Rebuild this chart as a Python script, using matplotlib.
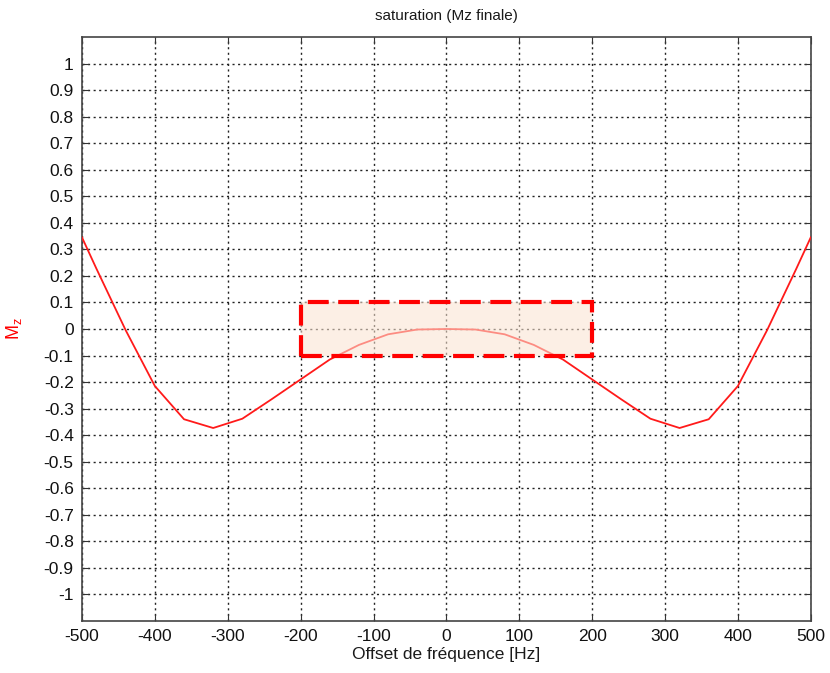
import numpy as np
import matplotlib
matplotlib.use("Agg")
import matplotlib.pyplot as plt
from matplotlib.patches import Rectangle

# frequency offsets [Hz] and final Mz (symmetric profile)
freq_half = [-500, -480, -440, -400, -360, -320, -280, -240, -200, -160, -120, -80, -40, 0]
mz_half = [0.345, 0.226, -0.005, -0.215, -0.34, -0.373, -0.338, -0.265, -0.19, -0.115, -0.06, -0.02, -0.002, 0.0]

freq = freq_half + [-f for f in freq_half[-2::-1]]
mz = mz_half + mz_half[-2::-1]

# highlighted band
band_x = [-200, 200]
band_y = [-0.1, 0.1]

xticks = list(range(-500, 501, 100))
yticks = [round(v, 1) for v in np.arange(-1.0, 1.01, 0.1)]

plt.rcParams['font.family'] = ['Liberation Sans', 'DejaVu Sans']

fig = plt.figure(figsize=(8.3, 6.73), dpi=100)
ax = fig.add_axes([0.0988, 0.0773, 0.878, 0.8677])

ax.plot(freq, mz, color='#ff1a1a', lw=1.3, zorder=3)

rect = Rectangle((band_x[0], band_y[0]), band_x[1] - band_x[0], band_y[1] - band_y[0],
                 facecolor=(0.984, 0.894, 0.824, 0.57), edgecolor='#ff0000',
                 lw=3, linestyle=(0, (5, 2.3)), zorder=4)
ax.add_patch(rect)

ax.set_xlim(-500, 500)
ax.set_ylim(-1.1, 1.1)
ax.set_xticks(xticks)
ax.set_xticklabels([str(t) for t in xticks])
ax.set_yticks(yticks)
ax.set_yticklabels(['0' if t == 0 else ('%g' % t) for t in yticks])

ax.grid(True, linestyle=(0, (1.5, 2.5)), color='#222222', lw=1.0)
ax.tick_params(direction='in', length=5, width=0.8, labelsize=12.5, colors='#333333',
               top=True, right=True, pad=6)
for tl in ax.get_xticklabels() + ax.get_yticklabels():
    tl.set_color('#111111')
for s in ax.spines.values():
    s.set_color('#444444')
    s.set_linewidth(1.2)

ax.set_title('saturation (Mz finale)', fontsize=11, color='#1a1a1a', pad=12)
ax.set_xlabel('Offset de fréquence [Hz]', fontsize=12.5, color='#1a1a1a', labelpad=2)
ax.set_ylabel('M$_\\mathregular{z}$', fontsize=13, color='#ff0000', labelpad=14)

fig.savefig('out.png', dpi=100)
